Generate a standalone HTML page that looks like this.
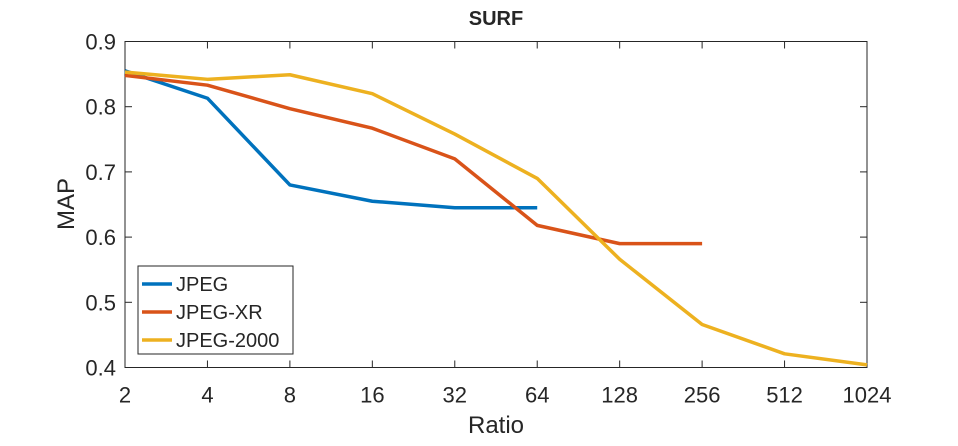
<!DOCTYPE html>
<html><head><meta charset="utf-8"><style>
body{margin:0;background:#fff;}
svg text{font-family:"Liberation Sans",Arial,sans-serif;fill:#262626;}
</style></head><body>
<svg width="958" height="441" viewBox="0 0 958 441">
<g id="plot"></g>
</svg>
<script>
const categories=[2,4,8,16,32,64,128,256,512,1024];
const xTicks=["2","4","8","16","32","64","128","256","512","1024"];
const yTicks=[0.4,0.5,0.6,0.7,0.8,0.9];
const seriesNames=["JPEG","JPEG-XR","JPEG-2000"];
const jpeg=[0.855,0.813,0.680,0.655,0.645,0.645];
const jpegXR=[0.848,0.833,0.797,0.767,0.720,0.618,0.590,0.590];
const jpeg2000=[0.853,0.842,0.849,0.820,0.758,0.690,0.566,0.466,0.421,0.404];
const colors=["#0072BD","#D95319","#EDB120"];
const L=125,R=867,T=41.5,B=367.5;
const X=v=>L+(Math.log2(v)-1)/9*(R-L);
const Y=v=>B+(v-0.4)/0.5*(T-B);
const NS="http://www.w3.org/2000/svg";
const g=document.getElementById('plot');
function mk(t,a,txt){const e=document.createElementNS(NS,t);for(const k in a)e.setAttribute(k,a[k]);if(txt!==undefined)e.textContent=txt;g.appendChild(e);return e;}
let e=mk('rect',{x:L,y:T,width:R-L,height:B-T,fill:'#fff',stroke:'#262626','stroke-width':1});


categories.forEach((c,i)=>{
 mk('line',{x1:X(c),x2:X(c),y1:B,y2:B-7,stroke:'#262626'});
 mk('line',{x1:X(c),x2:X(c),y1:T,y2:T+7,stroke:'#262626'});
 let t=mk('text',{x:X(c),y:B+35,'text-anchor':'middle','font-size':22},xTicks[i]);
 
 
});
yTicks.forEach(v=>{
 mk('line',{x1:L,x2:L+7,y1:Y(v),y2:Y(v),stroke:'#262626'});
 mk('line',{x1:R,x2:R-7,y1:Y(v),y2:Y(v),stroke:'#262626'});
 let t=mk('text',{x:L-9,y:Y(v)+8,'text-anchor':'end','font-size':22},v.toFixed(1));
 
 
});
[jpeg,jpegXR,jpeg2000].forEach((s,k)=>{
 const p=s.map((v,i)=>X(categories[i])+','+Y(v)).join(' ');
 let l=mk('polyline',{points:p,fill:'none',stroke:colors[k],'stroke-width':3.5,'stroke-linejoin':'round'});
 
 
});
e=mk('rect',{x:138,y:266,width:155,height:88,fill:'#fff',stroke:'#262626','stroke-width':1});


seriesNames.forEach((n,k)=>{
 const y=284+k*28;
 mk('line',{x1:142,x2:172,y1:y,y2:y,stroke:colors[k],'stroke-width':3.5});
 let t=mk('text',{x:176,y:y+7,'font-size':20},n);
 
 
});
e=mk('text',{x:496,y:25,'text-anchor':'middle','font-size':20,'font-weight':'bold'},'SURF');


e=mk('text',{x:496,y:433,'text-anchor':'middle','font-size':24},'Ratio');


e=mk('text',{x:0,y:0,'text-anchor':'middle','font-size':24,transform:'translate(74,204) rotate(-90)'},'MAP');


</script>
</body></html>
